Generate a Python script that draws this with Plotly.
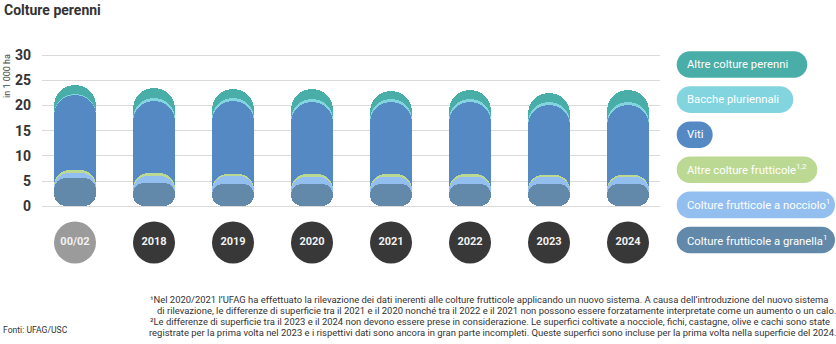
import plotly.graph_objects as go

# ---------------- data (1 000 ha) ----------------
categories = ["00/02", "2018", "2019", "2020", "2021", "2022", "2023", "2024"]
granella = [5.6, 4.7, 4.5, 4.4, 4.4, 4.4, 4.4, 4.4]
nocciolo = [1.1, 1.4, 1.6, 1.5, 1.5, 1.5, 1.4, 1.4]
altre_frutticole = [0.55, 0.5, 0.35, 0.55, 0.5, 0.5, 0.45, 0.45]
viti = [14.75, 14.2, 14.45, 14.15, 14.2, 14.2, 13.85, 13.85]
bacche = [0.3, 0.6, 0.5, 0.7, 0.6, 0.7, 0.5, 0.5]
altre_perenni = [1.7, 2.0, 1.8, 1.9, 1.7, 1.8, 1.95, 2.5]
y_ticks = [0, 5, 10, 15, 20, 25, 30]

series_names = [
    "Colture frutticole a granella<sup>1</sup>",
    "Colture frutticole a nocciolo<sup>1</sup>",
    "Altre colture frutticole<sup>1,2</sup>",
    "Viti",
    "Bacche pluriennali",
    "Altre colture perenni",
]
series_values = [granella, nocciolo, altre_frutticole, viti, bacche, altre_perenni]
series_colors = ["#6289A9", "#93BEF0", "#BCD993", "#5589C3", "#82D4DF", "#49ADA8"]
series_radius = [12, 15, 16, "50%", "50%", "50%"]

# ---------------- layout constants ----------------
W, H = 836, 344
L, R, T, B = 42, 176, 54, 77
PW, PH = W - L - R, H - T - B
FONT = "Roboto, 'Open Sans', sans-serif"
TXT = "#333333"
LABEL_ROW = -7.15


def px_x(p):
    return (p - L) / PW


def px_y(p):
    return (H - B - p) / PH


fig = go.Figure()

idx = list(range(len(categories)))

# cumulative totals
cums = []
run = [0.0] * len(categories)
for vals in series_values:
    run = [a + b for a, b in zip(run, vals)]
    cums.append(run)

# each series drawn as a pill from 0 to its cumulative value, back to front
for k in reversed(range(len(series_values))):
    fig.add_trace(go.Bar(
        x=idx, base=[0] * len(idx), y=cums[k], width=0.528,
        marker=dict(color=series_colors[k], cornerradius=series_radius[k], line=dict(width=0)),
        opacity=1, hoverinfo="skip", showlegend=False,
    ))

# category circles
circle_colors = ["#9B9B9B"] + ["#383838"] * (len(categories) - 1)
fig.add_trace(go.Scatter(
    x=idx, y=[LABEL_ROW] * len(categories), mode="markers+text", text=categories,
    textposition="middle center",
    marker=dict(size=42, color=circle_colors, line=dict(width=0)),
    textfont=dict(color="#F2F2F2", size=11, family=FONT, weight="bold"),
    cliponaxis=False, hoverinfo="skip", showlegend=False,
))

annotations = []
shapes = []

# title
annotations.append(dict(text="<b>Colture perenni</b>", x=px_x(2), y=px_y(10), xref="paper", yref="paper",
                        xanchor="left", yanchor="middle", showarrow=False,
                        font=dict(family=FONT, size=14, color=TXT)))
# y axis title
annotations.append(dict(text="in 1 000 ha", x=px_x(7), y=px_y(76), xref="paper", yref="paper",
                        xanchor="center", yanchor="middle", textangle=-90, showarrow=False,
                        font=dict(family=FONT, size=9, color="#444444")))


def pill_path(x0, y0, x1, y1, r):
    k = 0.5523 * r

    def P(x, y):
        return f"{px_x(x):.5f},{px_y(y):.5f}"
    d = f"M{P(x0 + r, y0)} L{P(x1 - r, y0)} "
    d += f"C{P(x1 - r + k, y0)} {P(x1, y0 + r - k)} {P(x1, y0 + r)} "
    d += f"L{P(x1, y1 - r)} "
    d += f"C{P(x1, y1 - r + k)} {P(x1 - r + k, y1)} {P(x1 - r, y1)} "
    d += f"L{P(x0 + r, y1)} "
    d += f"C{P(x0 + r - k, y1)} {P(x0, y1 - r + k)} {P(x0, y1 - r)} "
    d += f"L{P(x0, y0 + r)} "
    d += f"C{P(x0, y0 + r - k)} {P(x0 + r - k, y0)} {P(x0 + r, y0)} Z"
    return d


# legend pills
legend_order = [5, 4, 3, 2, 1, 0]
legend_widths = [130.6, 116.6, 36, 140.6, 158.3, 158.3]
LEG_X0, LEG_Y0, LEG_DY, LEG_H = 676.7, 64.5, 35.1, 26.6
for i, k in enumerate(legend_order):
    cy = LEG_Y0 + i * LEG_DY
    shapes.append(dict(type="path", xref="paper", yref="paper",
                       path=pill_path(LEG_X0, cy - LEG_H / 2, LEG_X0 + legend_widths[i], cy + LEG_H / 2, LEG_H / 2),
                       fillcolor=series_colors[k], line=dict(width=0), layer="above"))
    annotations.append(dict(text=series_names[k], x=px_x(685.2), y=px_y(cy), xref="paper", yref="paper",
                            xanchor="left", yanchor="middle", showarrow=False,
                            font=dict(family=FONT, size=11.3, color="white")))

# footnotes
foot = [
    (148, 299, "¹Nel 2020/2021 l’UFAG ha effettuato la rilevazione dei dati inerenti alle colture frutticole applicando un nuovo sistema. A causa dell’introduzione del nuovo sistema"),
    (155, 310, "di rilevazione, le differenze di superficie tra il 2021 e il 2020 nonché tra il 2022 e il 2021 non possono essere forzatamente interpretate come un aumento o un calo."),
    (148, 321, "²Le differenze di superficie tra il 2023 e il 2024 non devono essere prese in considerazione. Le superfici coltivate a nocciole, fichi, castagne, olive e cachi sono state"),
    (147, 332, "registrate per la prima volta nel 2023 e i rispettivi dati sono ancora in gran parte incompleti. Queste superfici sono incluse per la prima volta nella superficie del 2024."),
]
for fx, fy, t in foot:
    annotations.append(dict(text=t, x=px_x(fx), y=px_y(fy), xref="paper", yref="paper",
                            xanchor="left", yanchor="middle", showarrow=False,
                            font=dict(family=FONT, size=9.45, color=TXT)))
annotations.append(dict(text="Fonti: UFAG/USC", x=px_x(1), y=px_y(330), xref="paper", yref="paper",
                        xanchor="left", yanchor="middle", showarrow=False,
                        font=dict(family=FONT, size=8.6, color=TXT)))

fig.update_layout(
    width=W, height=H, margin=dict(l=L, r=R, t=T, b=B, pad=0),
    paper_bgcolor="white", plot_bgcolor="white",
    barmode="overlay", bargap=0,
    showlegend=False,
    annotations=annotations, shapes=shapes,
    xaxis=dict(range=[-0.4177, 7.405], showgrid=False, zeroline=False, showticklabels=False,
               showline=False, ticks=""),
    yaxis=dict(range=[-12, 30.2], tickvals=y_ticks, ticktext=[str(v) for v in y_ticks],
               showgrid=True, gridcolor="#DADADA", gridwidth=1, zeroline=False, showline=False,
               ticks="", ticklabelstandoff=10,
               tickfont=dict(family=FONT, size=14, color=TXT, weight="bold")),
    font=dict(family=FONT),
)

fig.write_html("out.html")
